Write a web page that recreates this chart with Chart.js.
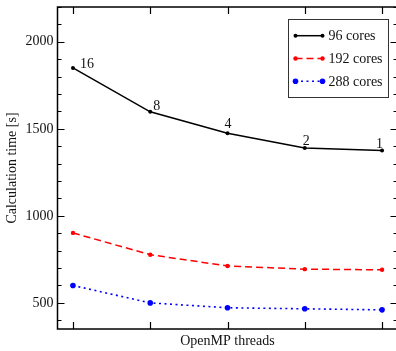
<!DOCTYPE html>
<html>
<head>
<meta charset="utf-8">
<script src="https://cdn.jsdelivr.net/npm/chart.js@4.4.1/dist/chart.umd.min.js"></script>
<style>
  html, body { margin: 0; padding: 0; background: #fff; overflow: hidden; }
  #wrap { width: 396px; height: 351px; overflow: hidden; }
</style>
</head>
<body>
<div id="wrap"><canvas id="chart" width="400" height="351"></canvas></div>
<script>
// data
const threads = [16, 8, 4, 2, 1];
const cores96 = [1850, 1598, 1475, 1390, 1375];
const cores192 = [902, 777, 712, 694, 690];
const cores288 = [600, 500, 472, 466, 460];
const seriesNames = ['96 cores', '192 cores', '288 cores'];
const yTickLabels = [500, 1000, 1500, 2000];

// where the thread numbers sit next to the 96-core points (px)
const labelShift = [[7, 0], [3, -2], [-3, -5], [-2, -3], [-6, -3]];

const serif = '"Liberation Serif", "DejaVu Serif", serif';

function pts(arr) {
    return arr.map((v, i) => ({ x: i, y: v }));
}

// frame, inward ticks, thread labels and the legend box
const extras = {
    id: 'extras',
    afterDatasetsDraw(chart) {
        const { ctx, chartArea: a, scales: { x, y } } = chart;
        ctx.save();
        ctx.strokeStyle = '#000';
        ctx.lineWidth = 1.5;
        ctx.strokeRect(a.left, a.top, a.right - a.left, a.bottom - a.top);

        ctx.lineWidth = 1.2;
        ctx.beginPath();
        threads.forEach((t, i) => {
            const px = Math.round(x.getPixelForValue(i)) + 0.5;
            ctx.moveTo(px, a.bottom); ctx.lineTo(px, a.bottom - 7);
            ctx.moveTo(px, a.top); ctx.lineTo(px, a.top + 7);
        });
        for (let v = 400; v <= 2200; v += 100) {
            const py = Math.round(y.getPixelForValue(v)) + 0.5;
            const len = yTickLabels.includes(v) ? 7 : 4;
            ctx.moveTo(a.left, py); ctx.lineTo(a.left + len, py);
            ctx.moveTo(a.right, py); ctx.lineTo(a.right - len, py);
        }
        ctx.stroke();

        // thread counts along the 96-core curve
        ctx.fillStyle = '#111';
        ctx.font = '14px ' + serif;
        ctx.textAlign = 'left';
        ctx.textBaseline = 'alphabetic';
        threads.forEach((t, i) => {
            const px = x.getPixelForValue(i);
            const py = y.getPixelForValue(cores96[i]);
            ctx.fillText(String(t), px + labelShift[i][0], py + labelShift[i][1]);
        });

        // legend
        const bx = a.right - 109, by = a.top + 12.5;
        ctx.fillStyle = '#fff';
        ctx.fillRect(bx, by, 100, 78);
        ctx.strokeStyle = '#333';
        ctx.lineWidth = 1;
        ctx.strokeRect(bx, by, 100, 78);
        chart.data.datasets.forEach((ds, k) => {
            const ly = a.top + 28.7 + k * 22.8;
            const x0 = bx + 7, x1 = bx + 34;
            ctx.strokeStyle = ds.borderColor;
            ctx.lineWidth = ds.borderWidth;
            ctx.setLineDash(ds.borderDash || []);
            ctx.beginPath();
            ctx.moveTo(x0, ly); ctx.lineTo(x1, ly);
            ctx.stroke();
            ctx.setLineDash([]);
            ctx.fillStyle = ds.pointBackgroundColor;
            [x0, x1].forEach(px => {
                ctx.beginPath();
                ctx.arc(px, ly, ds.pointRadius, 0, Math.PI * 2);
                ctx.fill();
            });
            ctx.fillStyle = '#111';
            ctx.textBaseline = 'middle';
            ctx.fillText(ds.label, bx + 40, ly + 1);
        });
        ctx.restore();
    }
};

new Chart(document.getElementById('chart'), {
    type: 'line',
    data: {
        datasets: [
            {
                label: seriesNames[0], data: pts(cores96),
                borderColor: '#000', borderWidth: 1.5,
                pointRadius: 2, pointBackgroundColor: '#000', pointBorderWidth: 0
            },
            {
                label: seriesNames[1], data: pts(cores192),
                borderColor: '#ff0000', borderWidth: 1.5, borderDash: [7, 4],
                pointRadius: 2.2, pointBackgroundColor: '#ff0000', pointBorderWidth: 0
            },
            {
                label: seriesNames[2], data: pts(cores288),
                borderColor: '#0000ff', borderWidth: 1.6, borderDash: [2, 3.5],
                pointRadius: 2.8, pointBackgroundColor: '#0000ff', pointBorderWidth: 0
            }
        ]
    },
    options: {
        responsive: false,
        animation: false,
        devicePixelRatio: 1,
        layout: { padding: { top: 7, right: 2.5, left: 0, bottom: 0 }, autoPadding: false },
        elements: { line: { tension: 0 } },
        plugins: { legend: { display: false }, tooltip: { enabled: false } },
        scales: {
            x: {
                type: 'linear', min: -0.2, max: 4.2,
                grid: { display: false, drawTicks: false }, border: { display: false },
                ticks: { display: false },
                title: {
                    display: true, text: 'OpenMP threads', color: '#111',
                    font: { family: serif, size: 14 }, padding: { top: 0, bottom: 1 }
                },
                afterFit(scale) {
                    scale.height = 22;
                    scale.paddingLeft = 0; scale.paddingRight = 0;
                }
            },
            y: {
                min: 350, max: 2200,
                grid: { display: false, drawTicks: false }, border: { display: false },
                ticks: {
                    stepSize: 100, autoSkip: false, padding: 4, color: '#111',
                    font: { family: serif, size: 14 },
                    callback: v => yTickLabels.includes(v) ? String(v) : ''
                },
                title: {
                    display: true, text: 'Calculation time [s]', color: '#111',
                    font: { family: serif, size: 14 }, padding: { top: 4, bottom: 0 }
                },
                afterFit(scale) {
                    scale.width = 57.5;
                    scale.paddingTop = 0; scale.paddingBottom = 0;
                }
            }
        }
    },
    plugins: [extras]
});
</script>
</body>
</html>
